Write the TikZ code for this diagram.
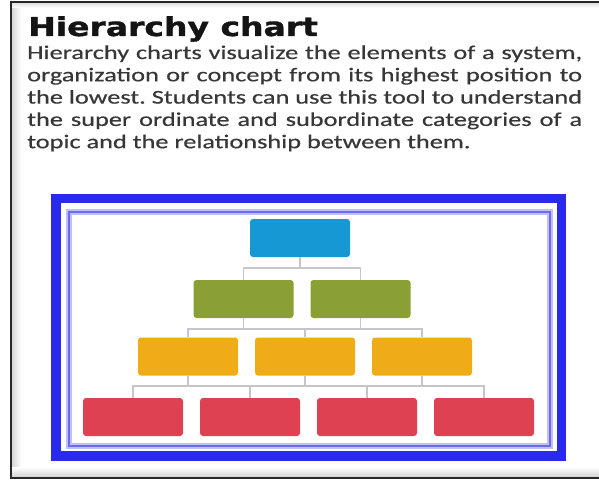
\documentclass[tikz,border=0pt]{standalone}
\usepackage{fontspec}
\setmainfont{Carlito}[FakeBold=0.35]
\newfontfamily\titlefont{DejaVu Sans Bold}[FakeBold=1.2]
\usepackage{graphicx}
\usetikzlibrary{calc}

\definecolor{framebl}{RGB}{42,42,238}
\definecolor{boxblue}{RGB}{22,152,212}
\definecolor{boxgreen}{RGB}{138,160,52}
\definecolor{boxorange}{RGB}{240,172,22}
\definecolor{boxred}{RGB}{222,66,82}
\definecolor{linkgray}{RGB}{196,198,204}
\definecolor{bodytext}{RGB}{55,55,55}

\newlength{\wdA}\newlength{\wdB}\newlength{\wdC}\newlength{\wdD}
\newcommand{\bodysize}{\fontsize{19.5}{22}\selectfont\frenchspacing}
\newcommand{\bodyline}[1]{\scalebox{\kx}[1]{\makebox[\linewd pt][s]{#1}}}

\begin{document}
\settowidth{\wdA}{\bodysize Hierarchy charts visualize the elements of a system,}%
\settowidth{\wdB}{\bodysize organization or concept from its highest position to}%
\settowidth{\wdC}{\bodysize the lowest. Students can use this tool to understand}%
\settowidth{\wdD}{\bodysize the super ordinate and subordinate categories of a}%
\pgfmathsetmacro\kx{555/max(\wdA,\wdB,\wdC,\wdD)}%
\pgfmathsetmacro\linewd{555/\kx}%
\begin{tikzpicture}[x=1pt,y=-1pt,
	box/.style={rounded corners=3pt, minimum width=100pt, minimum height=38pt, inner sep=0pt},
	link/.style={draw=linkgray, line width=1.6pt},
	txt/.style={anchor=base west, inner sep=0pt, text=bodytext, font=\bodysize}]
	\useasboundingbox (0,0) rectangle (599,481);
	\fill[white] (0,0) rectangle (599,481);
	% soft shadow along the edges
	\shade[left color=black!16, right color=white] (12,3) rectangle (21,477);
	\shade[top color=white, bottom color=black!18] (12,467) rectangle (599,477);
	\shade[top color=black!12, bottom color=white] (12,3) rectangle (599,8);
	\draw[line width=2pt, black!85] (599,2) -- (11,2) -- (11,478) -- (599,478);
	
	% heading and text
	\node[anchor=base west, inner sep=0pt, text=black!92] (title) at (28,36)
	{\scalebox{1.27}[1]{\titlefont\fontsize{26}{30}\selectfont Hierarchy chart}};
	\node[txt] (l1) at (27,59) {\bodyline{Hierarchy charts visualize the elements of a system,}};
	\node[txt] (l2) at (27,81.3) {\bodyline{organization or concept from its highest position to}};
	\node[txt] (l3) at (27,103.6) {\bodyline{the lowest. Students can use this tool to understand}};
	\node[txt] (l4) at (27,125.9) {\bodyline{the super ordinate and subordinate categories of a}};
	\node[txt] (l5) at (27,148.2) {\scalebox{\kx}[1]{topic and the relationship between them.}};
	
	% frame
	\draw[line width=9.5pt, framebl] (56,198.5) rectangle (561.5,456);
	\draw[line width=6pt, framebl!30] (68.5,211.5) rectangle (550,446);
	\draw[line width=2pt, framebl!70!white] (68.5,211.5) rectangle (550,446);
	
	% boxes
	\node[box, fill=boxblue] (top) at (300,238) {};
	\node[box, fill=boxgreen] (g1) at (243.5,299) {};
	\node[box, fill=boxgreen] (g2) at (360.5,299) {};
	\node[box, fill=boxorange] (o1) at (188,356.5) {};
	\node[box, fill=boxorange] (o2) at (305,356.5) {};
	\node[box, fill=boxorange] (o3) at (422,356.5) {};
	\node[box, fill=boxred] (r1) at (133,417) {};
	\node[box, fill=boxred] (r2) at (250,417) {};
	\node[box, fill=boxred] (r3) at (367,417) {};
	\node[box, fill=boxred] (r4) at (484,417) {};
	
	% connectors
	\coordinate (busA) at (0,268);
	\coordinate (busB) at (0,329);
	\coordinate (busC) at (0,386);
	\draw[link] (top.south) -- (top.south |- busA);
	\draw[link] (g1.north) -- (g1.north |- busA) -- (g2.north |- busA) -- (g2.north);
	\draw[link] (g1.south) -- (g1.south |- busB);
	\draw[link] (g2.south) -- (g2.south |- busB);
	\draw[link] (o1.north) -- (o1.north |- busB) -- (o3.north |- busB) -- (o3.north);
	\draw[link] (o2.north) -- (o2.north |- busB);
	\draw[link] (o1.south) -- (o1.south |- busC);
	\draw[link] (o2.south) -- (o2.south |- busC);
	\draw[link] (o3.south) -- (o3.south |- busC);
	\draw[link] (r1.north) -- (r1.north |- busC) -- (r4.north |- busC) -- (r4.north);
	\draw[link] (r2.north) -- (r2.north |- busC);
	\draw[link] (r3.north) -- (r3.north |- busC);
\end{tikzpicture}
\end{document}
